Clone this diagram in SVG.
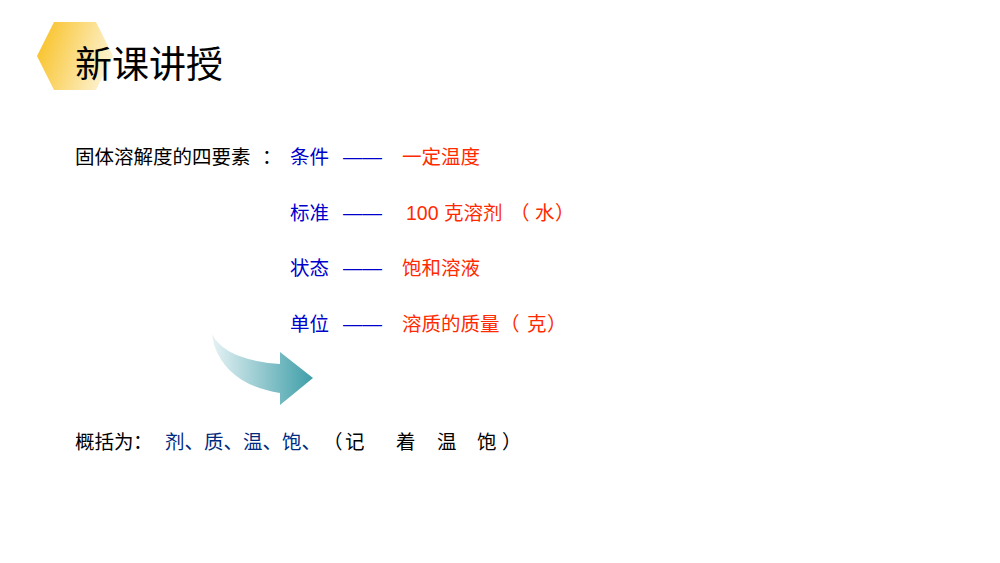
<svg xmlns="http://www.w3.org/2000/svg" width="1000" height="563" viewBox="0 0 1000 563">
<defs>
<linearGradient id="hx" x1="0" y1="0" x2="1" y2="0.3"><stop offset="0" stop-color="#F8BE1A"/><stop offset="1" stop-color="#FDF0C8"/></linearGradient>
<linearGradient id="ar" x1="0" y1="0" x2="1" y2="0"><stop offset="0" stop-color="#E6F2F4"/><stop offset="1" stop-color="#3E9EA8"/></linearGradient>
</defs>
<style>
text{font-family:"Liberation Sans","Noto Sans CJK SC",sans-serif;font-size:19.5px}
.k{fill:#000}.b{fill:#0000CC}.r{fill:#FF2A00}.n{fill:#002A80}
</style>
<rect width="1000" height="563" fill="#fff"/>
<g id="title">
<polygon points="37,56 54,22 96,22 113,56 96,90 54,90" fill="url(#hx)"/>
<text x="75" y="78" style="font-size:37px" class="k">新课讲授</text>
</g>
<g id="content">
<text x="75" y="164" class="k">固体溶解度的四要素</text><text x="262" y="164" class="k">：</text>
<text x="290" y="164" class="b">条件</text><text x="343" y="164" class="b">——</text>
<text x="402" y="164" class="r">一定温度</text>
<text x="290" y="220" class="b">标准</text><text x="343" y="220" class="b">——</text>
<text x="406" y="220" class="r">100 克溶剂</text><text x="510" y="220" class="r">（</text><text x="535" y="220" class="r">水</text><text x="555" y="220" class="r">）</text>
<text x="290" y="275" class="b">状态</text><text x="343" y="275" class="b">——</text>
<text x="402" y="275" class="r">饱和溶液</text>
<text x="290" y="331" class="b">单位</text><text x="343" y="331" class="b">——</text>
<text x="402" y="331" class="r">溶质的质量</text><text x="500" y="331" class="r">（</text><text x="527" y="331" class="r">克</text><text x="547" y="331" class="r">）</text>
<text x="75" y="449" class="k">概括为</text><text x="133" y="449" class="k">：</text>
<text x="165" y="449" class="n">剂、质、温、饱、</text>
<text x="323" y="449" class="k">（</text><text x="345" y="449" class="k">记</text><text x="396" y="449" class="k">着</text><text x="437" y="449" class="k">温</text><text x="477" y="449" class="k">饱</text><text x="502" y="449" class="k">）</text>
</g>
<g id="arrow">
<path d="M212,334 Q225,360 280,364 L280,352 L313,378 L280,405 L280,393 Q228,385 214,345 Z" fill="url(#ar)"/>
</g>
</svg>
